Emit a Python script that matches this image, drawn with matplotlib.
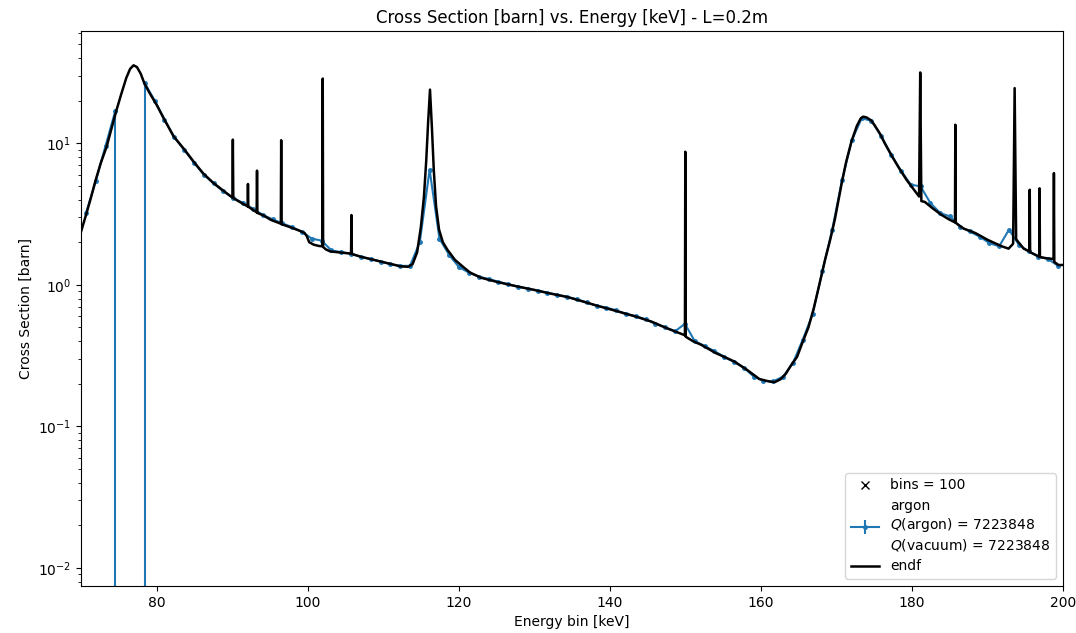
#!/usr/bin/env python3

import numpy as np
import matplotlib
matplotlib.use('Agg')
import matplotlib.pyplot as plt

# binned argon result: 100 bins over 70-200 keV
n_bins = 100
e_lo, e_hi = 70.0, 200.0
bin_centers = e_lo + (np.arange(n_bins) + 0.5) * (e_hi - e_lo) / n_bins

argon_xs = [
    3.2, 5.4, 9.6, 17.0, np.nan, np.nan, 26.5, 20.0, 14.7, 11.0,
    9.0, 7.3, 6.0, 5.2, 4.57, 4.1, 3.78, 3.45, 3.12, 2.9,
    2.72, 2.55, 2.37, 2.12, 2.05, 1.75, 1.70, 1.66, 1.58, 1.52,
    1.46, 1.40, 1.36, 1.36, 2.0, 6.5, 2.12, 1.62, 1.33, 1.22,
    1.14, 1.10, 1.05, 1.01, 0.97, 0.94, 0.91, 0.88, 0.85, 0.82,
    0.79, 0.75, 0.71, 0.69, 0.66, 0.62, 0.60, 0.57, 0.53, 0.50,
    0.47, 0.53, 0.40, 0.37, 0.34, 0.31, 0.285, 0.26, 0.225, 0.21,
    0.208, 0.225, 0.28, 0.41, 0.62, 1.25, 2.45, 5.5, 10.5, 15.0,
    14.4, 11.2, 8.3, 6.4, 5.1, 4.95, 3.78, 3.21, 3.04, 2.58,
    2.38, 2.19, 1.97, 1.87, 2.45, 1.92, 1.72, 1.58, 1.52, 1.36,
]
# only the two bins next to the peak have a (downward) error bar
argon_err_low = [0.0] * n_bins
argon_err_low[3] = 40.0
argon_err_low[6] = 45.0
argon_err_high = [0.0] * n_bins

# ENDF reference curve (incl. narrow resonances)
endf_e = [
    70.0, 70.65, 71.3, 71.9, 72.6, 73.4, 74.0, 74.65, 75.3, 76.0,
    76.5, 76.95, 77.4, 77.9, 78.37, 79.0, 80.05, 81.0, 82.25, 83.7,
    85.0, 86.2, 87.5, 89.0, 90.04, 90.1, 90.16, 91.0, 92.05, 92.1,
    92.15, 93.25, 93.3, 93.35, 94.2, 95.1, 96.45, 96.5, 96.55, 97.9,
    99.0, 99.6, 99.9, 100.2, 100.8, 101.5, 101.95, 102.0, 102.05, 102.4,
    103.0, 104.4, 105.75, 105.8, 105.85, 107.0, 108.3, 109.7, 111.0, 112.3,
    113.3, 113.9, 114.5, 115.0, 115.4, 115.7, 115.95, 116.2, 116.45, 116.7,
    117.0, 117.4, 117.9, 118.5, 119.5, 120.5, 121.5, 123.0, 125.0, 127.5,
    130.0, 132.0, 134.4, 136.5, 138.8, 141.0, 143.3, 145.5, 147.7, 149.0,
    149.95, 150.0, 150.05, 151.0, 152.1, 154.0, 156.5, 158.2, 159.8, 161.0,
    161.8, 162.6, 163.3, 164.0, 164.8, 165.5, 166.3, 167.0, 167.7, 168.5,
    169.2, 169.8, 170.7, 171.3, 172.0, 172.7, 173.2, 173.55, 174.0, 174.6,
    175.1, 175.8, 176.4, 177.3, 178.2, 179.3, 180.6, 180.95, 181.1, 181.25,
    181.7, 182.8, 183.9, 185.0, 185.7, 185.75, 185.8, 186.8, 188.4, 190.0,
    191.9, 192.8, 193.4, 193.6, 193.8, 194.1, 194.8, 195.55, 195.6, 195.65,
    196.85, 196.9, 196.95, 197.8, 198.75, 198.8, 198.85, 199.4, 200.0,
]
endf_xs = [
    2.37, 3.1, 4.1, 5.4, 7.2, 9.5, 12.5, 16.8, 22.0, 29.0,
    33.5, 35.5, 34.5, 31.0, 26.6, 23.0, 18.5, 14.8, 11.2, 9.0,
    7.3, 6.1, 5.25, 4.55, 4.13, 10.6, 4.1, 3.85, 3.58, 5.15,
    3.56, 3.25, 6.4, 3.22, 3.08, 2.88, 2.70, 10.5, 2.68, 2.53,
    2.40, 2.32, 2.2, 2.0, 1.92, 1.88, 1.87, 28.6, 1.85, 1.78,
    1.72, 1.69, 1.66, 3.11, 1.65, 1.58, 1.52, 1.46, 1.40, 1.35,
    1.34, 1.40, 1.7, 2.58, 4.2, 7.5, 14.0, 23.9, 13.0, 6.5,
    3.6, 2.45, 2.0, 1.77, 1.50, 1.35, 1.22, 1.12, 1.05, 0.98,
    0.92, 0.87, 0.82, 0.76, 0.70, 0.65, 0.60, 0.55, 0.49, 0.46,
    0.44, 8.7, 0.43, 0.40, 0.377, 0.33, 0.287, 0.25, 0.216, 0.208,
    0.205, 0.215, 0.235, 0.27, 0.31, 0.39, 0.50, 0.68, 0.98, 1.50,
    2.1, 2.9, 5.2, 7.4, 10.3, 13.2, 14.9, 15.4, 15.2, 14.5,
    13.3, 11.6, 10.0, 8.2, 6.8, 5.5, 4.44, 4.2, 31.6, 3.9,
    3.85, 3.45, 3.12, 2.88, 2.76, 13.5, 2.74, 2.5, 2.32, 2.08,
    1.87, 1.80, 1.95, 24.5, 2.1, 2.0, 1.80, 1.72, 4.69, 1.70,
    1.58, 4.8, 1.57, 1.54, 1.52, 6.15, 1.45, 1.38, 1.38,
]

q_argon = 7223848
q_vacuum = 7223848
length_m = 0.2


def plot_xs():
    fig = plt.figure(figsize=(10.76, 6.33), dpi=100)
    ax = fig.add_axes([0.0753, 0.0743, 0.9126, 0.8767])

    h_bins, = ax.plot([], [], 'x', color='black', label=f'bins = {n_bins}')
    label = (f'argon\n$Q$(argon) = {q_argon}\n'
             f'$Q$(vacuum) = {q_vacuum}')
    h_argon = ax.errorbar(bin_centers, argon_xs,
                          yerr=[argon_err_low, argon_err_high], fmt='.-',
                          color='tab:blue', markersize=5, linewidth=1.5,
                          label=label, zorder=2)
    h_endf, = ax.plot(endf_e, endf_xs, color='black', linewidth=1.8,
                      label='endf', zorder=3)

    ax.set_yscale('log')
    ax.set_xlim(e_lo, e_hi)
    ax.set_ylim(0.00746, 62)
    ax.set_title(f'Cross Section [barn] vs. Energy [keV] - L={length_m}m')
    ax.set_xlabel('Energy bin [keV]')
    ax.set_ylabel('Cross Section [barn]')
    ax.legend(handles=[h_bins, h_argon, h_endf], loc='lower right')
    fig.savefig('out.png')


if __name__ == '__main__':
    plot_xs()
